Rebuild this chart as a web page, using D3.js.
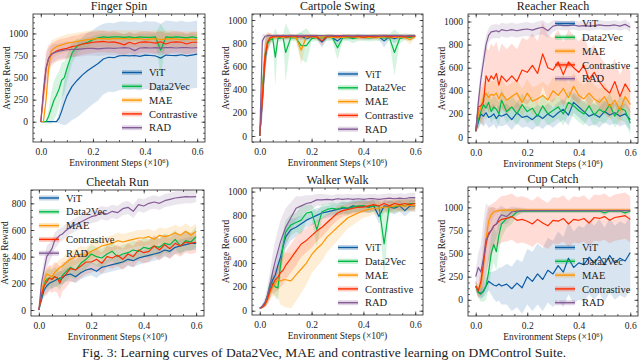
<!DOCTYPE html>
<html>
<head>
<meta charset="UTF-8">
<script src="https://d3js.org/d3.v7.min.js"></script>
<style>
  body { margin: 0; background: #fff; }
  svg text { font-family: "Liberation Serif", serif; fill: #222; }
</style>
</head>
<body>
<svg id="chart" width="640" height="360"></svg>
<script>
// environment steps (x 10^6)
const steps = [0,0.01,0.02,0.03,0.04,0.05,0.06,0.07,0.08,0.09,0.10,0.12,0.14,0.16,0.18,0.20,0.22,0.24,0.26,0.28,0.30,0.32,0.34,0.36,0.38,0.40,0.42,0.44,0.46,0.48,0.50,0.52,0.54,0.56,0.58,0.60];
const methods = ["ViT", "Data2Vec", "MAE", "Contrastive", "RAD"];
const titles = ["Finger Spin", "Cartpole Swing", "Reacher Reach", "Cheetah Run", "Walker Walk", "Cup Catch"];
const xTicks = [0, 0.2, 0.4, 0.6];

// ---- Finger Spin (ViT, Data2Vec, MAE, Contrastive, RAD)
const fingerMean = [
  [0,0,0,0,0,0,0,40,120,210,290,400,470,530,580,620,660,710,730,725,745,750,745,750,740,755,750,745,720,755,750,748,758,745,755,765],
  [0,0,0,60,150,240,300,370,470,500,600,780,860,880,900,930,950,960,955,960,960,955,960,950,960,955,955,960,810,960,955,960,955,950,960,950],
  [0,0,250,600,800,830,850,860,870,880,890,900,910,920,930,935,940,940,935,940,940,940,935,940,940,930,935,940,930,935,940,935,930,935,930,930],
  [0,300,600,720,760,780,800,810,820,825,830,850,860,880,890,900,905,910,900,905,890,870,900,880,900,905,900,890,905,880,900,905,900,880,900,900],
  [0,350,600,720,760,780,790,800,805,810,815,820,820,825,830,830,825,830,835,830,835,840,835,805,835,840,835,840,835,840,840,835,840,840,835,840]
];
const fingerStd = [
  [0,0,0,0,0,0,10,60,150,250,320,380,420,430,430,420,420,400,390,390,390,385,385,385,385,385,385,390,390,390,390,385,385,385,380,380],
  [0,0,0,80,180,220,220,200,200,180,150,120,80,60,50,40,40,40,40,40,40,40,40,40,40,40,40,40,300,60,40,40,40,40,40,40],
  [0,0,100,150,120,100,100,100,100,100,100,100,100,100,100,100,100,95,95,95,95,95,95,95,95,95,95,95,95,95,95,90,90,90,90,90],
  [0,150,200,150,130,120,120,120,120,120,120,120,120,120,120,120,120,120,120,120,120,120,120,120,120,120,120,120,120,120,120,120,120,120,120,120],
  [0,150,150,120,100,100,90,90,90,90,90,85,85,85,80,80,80,80,80,80,80,80,80,80,80,80,80,80,80,80,80,80,80,80,80,80]
];

// ---- Cartpole Swing
const cartpoleMean = [
  [0,300,650,800,840,850,855,855,850,855,850,855,850,860,840,855,850,810,855,850,820,855,850,855,855,855,850,855,855,820,855,840,855,855,855,860],
  [0,400,700,800,830,840,680,840,845,850,720,850,845,780,780,840,850,845,850,850,760,845,850,840,850,850,845,850,850,845,850,720,840,855,850,860],
  [0,350,700,820,840,850,850,855,855,850,855,855,850,740,855,855,850,855,855,850,855,850,855,855,850,855,850,855,850,855,855,850,855,850,830,860],
  [0,320,680,810,850,855,860,860,855,860,855,860,860,855,860,860,855,820,860,860,855,860,860,855,860,850,860,855,860,860,855,860,860,855,860,860],
  [0,820,860,865,866,865,864,866,865,866,865,866,865,864,866,865,866,865,864,866,865,866,865,864,866,865,866,865,864,866,865,866,865,864,866,865]
];
const cartpoleStd = [
  [0,150,150,80,40,20,20,20,20,20,20,20,20,30,20,20,20,50,20,20,40,20,20,20,20,20,20,20,20,60,20,40,20,20,20,15],
  [0,150,150,80,40,30,250,30,30,30,250,30,30,120,150,30,30,30,30,30,100,30,30,40,30,30,30,30,30,30,30,200,40,30,30,20],
  [0,150,150,80,40,20,20,20,20,20,20,20,20,130,20,20,20,20,20,20,20,20,20,20,20,20,20,20,20,20,20,20,20,20,40,15],
  [0,150,150,80,40,20,20,20,20,20,20,20,20,20,20,20,20,40,20,20,20,20,20,20,20,20,20,20,20,20,20,20,20,20,20,15],
  [0,60,20,10,10,10,10,10,10,10,10,10,10,10,10,10,10,10,10,10,10,10,10,10,10,10,10,10,10,10,10,10,10,10,10,10]
];

// ---- Reacher Reach
const reacherMean = [
  [50,130,200,180,210,170,180,200,160,190,180,200,150,210,170,180,150,190,160,200,170,210,240,190,300,260,220,180,200,170,220,190,210,180,200,150],
  [50,150,220,280,250,300,220,260,240,200,320,220,260,200,280,220,250,180,270,200,230,260,200,300,270,230,200,270,190,240,210,280,180,250,230,120],
  [50,200,260,340,380,340,370,360,380,330,380,320,350,380,300,380,310,330,360,320,400,360,420,340,440,360,330,380,330,300,350,260,320,230,350,280],
  [50,260,270,300,530,480,530,500,550,450,530,480,530,480,580,560,620,550,720,600,580,650,540,650,600,560,620,500,560,480,420,380,480,350,460,390],
  [50,300,500,650,800,880,910,915,920,910,930,920,930,920,930,935,925,940,950,920,960,970,965,965,970,960,965,960,965,970,965,965,970,960,975,950]
];
const reacherStd = [
  [0,60,80,90,90,90,90,90,90,90,90,90,90,90,90,90,90,90,90,90,90,90,90,90,90,90,90,90,90,90,90,90,90,90,90,90],
  [0,80,100,100,100,100,100,100,100,100,100,100,100,100,100,100,100,100,100,100,100,100,100,100,100,100,100,100,100,100,100,100,100,100,100,100],
  [0,100,120,120,120,120,120,120,120,120,120,120,120,120,120,120,120,120,120,120,120,120,120,120,120,120,120,120,120,120,120,120,120,120,120,120],
  [0,100,150,200,250,270,280,280,280,280,280,280,280,280,280,280,280,280,280,280,280,280,280,280,280,270,260,250,240,230,220,210,200,190,180,180],
  [0,80,100,100,80,60,60,60,60,60,60,60,60,60,60,60,60,60,60,60,50,40,40,40,40,40,40,40,40,40,40,40,40,40,40,40]
];

// ---- Cheetah Run
const cheetahMean = [
  [0,80,150,180,200,210,220,230,240,240,260,270,250,280,300,310,290,320,330,340,350,360,380,370,390,400,410,420,430,450,440,470,480,490,500,500],
  [0,100,200,230,240,230,250,240,220,260,280,320,300,350,380,420,400,390,420,440,400,420,430,450,440,470,460,480,470,500,490,530,480,520,510,550],
  [0,120,220,270,260,250,280,300,320,330,350,380,400,420,410,440,460,480,490,500,520,510,520,530,540,540,550,530,560,550,560,580,560,590,560,590],
  [0,110,180,210,240,230,250,240,200,250,260,310,300,330,360,360,380,350,400,390,410,380,420,400,450,430,440,480,450,490,460,500,480,510,500,510],
  [0,200,300,400,430,460,520,540,560,570,590,620,640,660,680,700,710,730,720,740,730,760,770,740,790,780,800,810,800,820,830,840,845,850,848,850]
];
const cheetahStd = [
  [0,30,40,50,50,50,50,50,50,50,50,50,50,50,50,50,50,50,50,50,50,50,50,50,50,50,50,50,50,50,50,50,50,50,50,50],
  [0,40,60,70,70,70,70,70,70,70,70,70,70,70,70,70,70,70,70,70,70,70,70,70,70,70,70,70,70,70,70,70,70,70,70,80],
  [0,40,60,60,60,60,60,60,60,60,60,60,60,60,60,60,60,60,60,60,60,60,60,60,60,60,60,60,60,60,60,60,60,60,60,60],
  [0,50,80,100,100,100,110,110,120,110,100,100,90,90,90,80,80,80,80,80,80,80,80,80,80,80,80,80,80,80,80,80,80,80,80,80],
  [0,60,80,80,70,60,60,60,50,50,50,50,50,50,50,50,50,50,50,50,50,50,50,50,50,50,50,50,50,50,50,50,50,50,50,40]
];

// ---- Walker Walk
const walkerMean = [
  [20,30,60,120,200,260,300,380,450,540,620,680,700,730,760,780,800,820,830,840,850,860,860,880,870,880,870,880,790,880,870,860,880,840,880,880],
  [20,30,60,130,230,230,200,190,380,550,660,720,740,760,820,830,680,830,850,860,850,870,860,870,880,880,870,880,880,560,880,870,890,880,900,900],
  [20,30,50,90,150,200,230,260,250,260,260,250,300,350,400,470,520,560,620,660,700,740,780,800,820,840,850,860,860,870,870,880,880,880,885,880],
  [20,30,50,100,170,220,260,280,320,340,380,440,500,560,590,630,670,700,740,780,820,840,850,860,870,870,880,890,880,900,880,900,890,900,890,900],
  [20,40,70,130,220,330,420,500,580,640,700,780,860,880,900,910,930,930,935,930,940,935,940,935,940,935,940,940,935,940,945,940,945,940,950,950]
];
const walkerStd = [
  [0,10,20,40,60,80,90,100,100,100,100,90,80,70,60,60,60,50,50,50,50,50,50,50,50,50,50,50,60,50,50,50,50,50,50,50],
  [0,10,20,40,60,80,90,100,110,110,100,90,80,120,70,60,150,60,50,50,50,50,50,50,50,50,50,50,50,300,50,50,50,50,50,50],
  [0,10,20,40,60,80,100,150,200,220,230,230,220,200,180,160,150,140,130,120,110,100,90,80,70,60,60,50,50,50,50,50,50,50,50,50],
  [0,10,20,40,60,80,100,110,120,120,120,120,120,110,100,100,90,80,70,60,60,50,50,50,50,50,50,50,50,50,50,50,50,50,50,50],
  [0,20,40,80,120,150,170,180,180,170,160,130,100,80,70,60,50,50,40,40,40,40,40,40,40,40,40,40,40,40,40,40,40,40,40,40]
];

// ---- Cup Catch
const cupMean = [
  [150,80,70,90,150,200,180,160,150,170,150,170,120,180,130,250,200,280,220,320,280,370,300,450,350,400,380,460,400,470,380,480,400,450,420,510],
  [150,80,60,100,150,300,500,600,520,700,820,880,900,950,960,960,960,960,960,960,960,960,960,960,960,960,960,960,960,960,940,960,960,960,940,960],
  [150,100,150,350,650,850,920,950,960,965,970,970,970,970,970,970,970,970,970,970,970,970,970,970,970,970,970,970,970,970,970,970,970,970,970,970],
  [150,100,200,400,600,720,750,800,820,850,870,880,900,860,870,850,820,870,830,800,860,850,880,820,870,860,880,830,890,880,900,860,890,900,910,870],
  [250,350,300,450,650,700,750,800,820,880,920,900,950,960,965,965,965,965,965,965,965,965,965,965,965,965,965,965,965,965,965,965,965,965,965,965]
];
const cupStd = [
  [50,50,50,60,80,100,120,150,170,180,200,220,240,260,280,300,320,330,340,350,360,370,380,390,390,400,400,400,400,400,400,400,400,400,400,400],
  [50,60,80,120,150,180,200,200,200,180,150,100,80,40,20,20,20,20,20,20,20,20,20,20,20,20,20,20,20,20,30,20,20,20,30,20],
  [50,60,100,150,150,120,80,50,30,20,20,20,20,20,20,20,20,20,20,20,20,20,20,20,20,20,20,20,20,20,20,20,20,20,20,20],
  [50,80,150,250,300,300,280,250,250,250,250,250,250,250,250,250,250,250,250,250,250,250,250,250,250,250,250,250,250,250,250,250,250,250,250,250],
  [80,150,300,400,400,300,250,200,150,120,100,80,60,40,30,20,20,20,20,20,20,20,20,20,20,20,20,20,20,20,20,20,20,20,20,20]
];

const panelMeans = [fingerMean, cartpoleMean, reacherMean, cheetahMean, walkerMean, cupMean];
const panelStds = [fingerStd, cartpoleStd, reacherStd, cheetahStd, walkerStd, cupStd];
const panelYTicks = [
  [0,250,500,750,1000],
  [0,200,400,600,800,1000],
  [0,200,400,600,800,1000],
  [0,200,400,600,800],
  [0,200,400,600,800,1000],
  [0,250,500,750,1000]
];

// layout (pixels) and styles
const colors = ["#0C5DA5", "#00B945", "#FF9500", "#FF2C00", "#845B97"];
const serif = "Liberation Serif";
const layout = [
  {left: 33, right: 205, top: 14, bottom: 142, ydom: [-230, 1220], leg: [122, 72.5]},
  {left: 252, right: 423, top: 14, bottom: 142, ydom: [-52, 1052], leg: [338, 74]},
  {left: 468, right: 638, top: 14, bottom: 143, ydom: [-52, 1065], leg: [555, 23.5]},
  {left: 31, right: 204, top: 190, bottom: 316, ydom: [-45, 900], leg: [39, 198]},
  {left: 252, right: 423, top: 188, bottom: 315, ydom: [-36, 1030], leg: [338, 247.5]},
  {left: 468, right: 638, top: 187, bottom: 316, ydom: [-175, 1220], leg: [555, 247.5]}
];

const svg = d3.select("#chart").attr("font-family", serif);

function styleAxis(g) {
  g.attr("font-family", serif);
  g.select(".domain").remove();
  g.selectAll("line").attr("stroke", "#222").attr("stroke-width", 0.7);
  g.selectAll("text")
   .attr("font-family", serif)
   .attr("font-size", 9.5)
   .attr("fill", "#222");
}

layout.forEach((p, k) => {
  const x = d3.scaleLinear().domain([-0.03, 0.63]).range([p.left, p.right]);
  const y = d3.scaleLinear().domain(p.ydom).range([p.bottom, p.top]);
  const g = svg.append("g");

  g.append("clipPath").attr("id", "clip" + k)
   .append("rect").attr("x", p.left).attr("y", p.top)
   .attr("width", p.right - p.left).attr("height", p.bottom - p.top);

  const plot = g.append("g").attr("clip-path", "url(#clip" + k + ")");
  const means = panelMeans[k], stds = panelStds[k];

  means.forEach((m, s) => {
    const area = d3.area()
      .x((d, i) => x(steps[i]))
      .y0((d, i) => y(d - stds[s][i]))
      .y1((d, i) => y(d + stds[s][i]));
    plot.append("path").attr("d", area(m))
        .attr("fill", colors[s]).attr("fill-opacity", 0.16).attr("stroke", "none");
  });
  means.forEach((m, s) => {
    const line = d3.line().x((d, i) => x(steps[i])).y(d => y(d));
    plot.append("path").attr("d", line(m))
        .attr("fill", "none").attr("stroke", colors[s]).attr("stroke-width", 1.2)
        .attr("stroke-linejoin", "round");
  });

  // axes with inward ticks on all four sides
  const yt = panelYTicks[k];
  const ystep = yt[1] - yt[0];
  const yMinor = d3.range(yt[0] - 4 * ystep, yt[yt.length - 1] + 4 * ystep, ystep / 4)
                   .filter(v => v >= p.ydom[0] && v <= p.ydom[1]);
  const xMinor = d3.range(0, 0.631, 0.05);

  g.append("g").attr("transform", "translate(0," + p.bottom + ")")
   .call(d3.axisBottom(x).tickValues(xTicks).tickSize(-3.5).tickPadding(6).tickFormat(d3.format(".1f")))
   .call(styleAxis);
  g.append("g").attr("transform", "translate(0," + p.bottom + ")")
   .call(d3.axisBottom(x).tickValues(xMinor).tickSize(-2).tickFormat("")).call(styleAxis);
  g.append("g").attr("transform", "translate(0," + p.top + ")")
   .call(d3.axisTop(x).tickValues(xTicks).tickSize(-3.5).tickFormat("")).call(styleAxis);
  g.append("g").attr("transform", "translate(0," + p.top + ")")
   .call(d3.axisTop(x).tickValues(xMinor).tickSize(-2).tickFormat("")).call(styleAxis);

  g.append("g").attr("transform", "translate(" + p.left + ",0)")
   .call(d3.axisLeft(y).tickValues(yt).tickSize(-3.5).tickPadding(5).tickFormat(d3.format("d")))
   .call(styleAxis);
  g.append("g").attr("transform", "translate(" + p.left + ",0)")
   .call(d3.axisLeft(y).tickValues(yMinor).tickSize(-2).tickFormat("")).call(styleAxis);
  g.append("g").attr("transform", "translate(" + p.right + ",0)")
   .call(d3.axisRight(y).tickValues(yt).tickSize(-3.5).tickFormat("")).call(styleAxis);
  g.append("g").attr("transform", "translate(" + p.right + ",0)")
   .call(d3.axisRight(y).tickValues(yMinor).tickSize(-2).tickFormat("")).call(styleAxis);

  g.append("rect").attr("x", p.left).attr("y", p.top)
   .attr("width", p.right - p.left).attr("height", p.bottom - p.top)
   .attr("fill", "none").attr("stroke", "#222").attr("stroke-width", 0.8);

  // title and axis labels
  const cx = (p.left + p.right) / 2;
  g.append("text").attr("x", cx).attr("y", p.top - 4)
   .attr("text-anchor", "middle").attr("font-size", 12).text(titles[k]);

  const xl = g.append("text").attr("x", cx).attr("y", p.bottom + 24)
   .attr("text-anchor", "middle").attr("font-size", 9.5);
  xl.append("tspan").text("Environment Steps (\u00d710");
  xl.append("tspan").attr("dy", -3.5).attr("font-size", 6.5).text("6");
  xl.append("tspan").attr("dy", 3.5).text(")");

  g.append("text")
   .attr("transform", "translate(" + (p.left - 23) + "," + ((p.top + p.bottom) / 2) + ") rotate(-90)")
   .attr("text-anchor", "middle").attr("font-size", 9.5).text("Average Reward");

  // legend
  methods.forEach((name, s) => {
    const ly = p.leg[1] + s * 13.8;
    g.append("rect").attr("x", p.leg[0]).attr("y", ly - 2.5).attr("width", 20).attr("height", 5)
     .attr("fill", colors[s]).attr("fill-opacity", 0.25);
    g.append("line").attr("x1", p.leg[0]).attr("x2", p.leg[0] + 20).attr("y1", ly).attr("y2", ly)
     .attr("stroke", colors[s]).attr("stroke-width", 1.4);
    g.append("text").attr("x", p.leg[0] + 27).attr("y", ly).attr("dy", "0.35em")
     .attr("font-size", 10.5).text(name);
  });
});

svg.append("text").attr("x", 324).attr("y", 357).attr("text-anchor", "middle")
   .attr("font-size", 13.5)
   .text("Fig. 3: Learning curves of Data2Vec, MAE and contrastive learning on DMControl Suite.");
</script>
</body>
</html>
